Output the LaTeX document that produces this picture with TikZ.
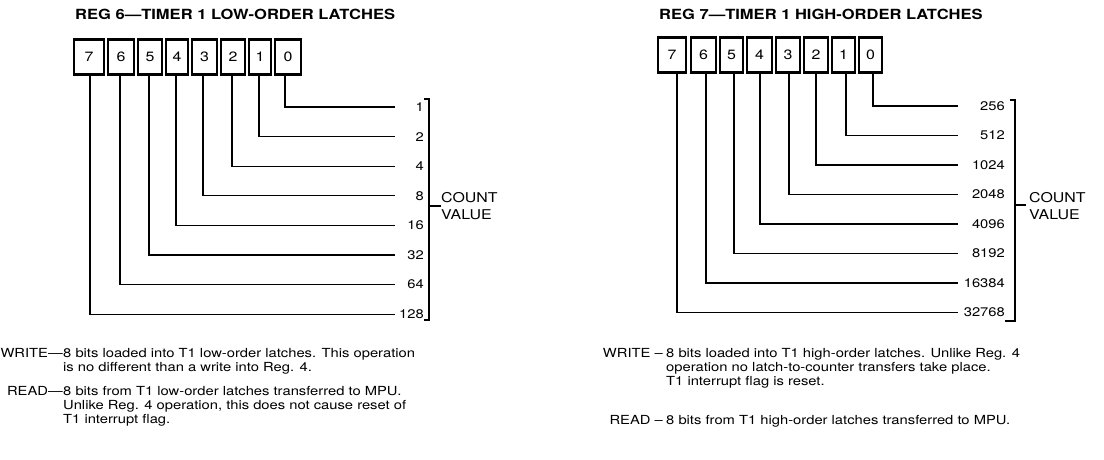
\documentclass[tikz,border=0pt]{standalone}
\usepackage{fontspec}
\setmainfont[FakeStretch=1.18]{TeX Gyre Heros}
\begin{document}
\begin{tikzpicture}[x=1pt,y=-1pt,
  cell/.style={draw, line width=2.2pt, minimum height=35pt, inner sep=0pt, font=\fontsize{13.5}{13.5}\selectfont},
  wire/.style={line width=1.3pt},
  brk/.style={line width=1.7pt},
  val/.style={anchor=east, inner sep=0pt, font=\fontsize{12.5}{12.5}\selectfont},
  title/.style={anchor=west, inner sep=0pt, font=\fontsize{14}{14}\selectfont\bfseries},
  body/.style={anchor=base west, inner sep=0pt, font=\fontsize{12.5}{14}\selectfont},
  lbl/.style={anchor=base east, inner sep=0pt, font=\fontsize{12.5}{14}\selectfont},
  cv/.style={anchor=west, inner sep=0pt, align=left, font=\fontsize{13.5}{17}\selectfont}]
\useasboundingbox (0,0) rectangle (1104,459);

% ---------- left panel ----------
\node[title] (LT) at (75,14) {REG 6\textemdash TIMER 1 LOW-ORDER LATCHES};
\foreach \b/\l/\r in {7/73/105,6/107/135,5/137/163,4/165/189,3/191/218,2/220/246,1/248/272,0/274/302}
  \node[cell, minimum width={(\r-\l-2.2)*1pt}] (L\b) at ({(\l+\r)/2},57) {\b};
\foreach \b/\v/\x in {0/1/285,1/2/259,2/4/232,3/8/203,4/16/176,5/32/149,6/64/120,7/128/90}{
  \coordinate (LX\b) at (\x,0);
  \coordinate (LE\b) at (395,{107+29.6*\b});
  \draw[wire] (L\b.south -| LX\b) |- (LE\b);
  \node[val] (LV\b) at (424,{107+29.6*\b}) {\v};
}
\coordinate (LB1) at (424,99);
\coordinate (LB2) at (429,99);
\coordinate (LB3) at (429,320);
\coordinate (LB4) at (424,320);
\coordinate (LBm) at (429,206);
\draw[brk] (LB1) -- (LB2) -- (LB3) -- (LB4);
\node[cv] (LCV) at (441,206) {COUNT\\VALUE};
\draw[brk] (LBm) -- (LCV.west |- LBm);

\node[lbl]  (LWl) at (63,357) {WRITE\textemdash};
\node[body] (LW1) at (63,357) {8 bits loaded into T1 low-order latches. This operation};
\node[body] (LW2) at (63,371) {is no different than a write into Reg. 4.};
\node[lbl]  (LRl) at (63,395) {READ\textemdash};
\node[body] (LR1) at (63,395) {8 bits from T1 low-order latches transferred to MPU.};
\node[body] (LR2) at (63,409) {Unlike Reg. 4 operation, this does not cause reset of};
\node[body] (LR3) at (63,423) {T1 interrupt flag.};

% ---------- right panel ----------
\node[title] (RT) at (659,14) {REG 7\textemdash TIMER 1 HIGH-ORDER LATCHES};
\foreach \b/\l/\r in {7/657/687,6/690/717,5/719/744,4/746/773,3/775/801,2/803/829,1/831/856,0/858/883}
  \node[cell, minimum width={(\r-\l-2.2)*1pt}] (R\b) at ({(\l+\r)/2},55) {\b};
\foreach \b/\v/\x in {0/256/873,1/512/846,2/1024/816,3/2048/789,4/4096/760,5/8192/734,6/16384/706,7/32768/677}{
  \coordinate (RX\b) at (\x,0);
  \coordinate (RE\b) at (958,{106+29.5*\b});
  \draw[wire] (R\b.south -| RX\b) |- (RE\b);
  \node[val] (RV\b) at (1005,{106+29.5*\b}) {\v};
}
\coordinate (RB1) at (1010,100);
\coordinate (RB2) at (1015,100);
\coordinate (RB3) at (1015,321);
\coordinate (RB4) at (1005,321);
\coordinate (RBm) at (1015,205);
\draw[brk] (RB1) -- (RB2) -- (RB3) -- (RB4);
\node[cv] (RCV) at (1029,206) {COUNT\\VALUE};
\draw[brk] (RBm) -- ([xshift=-3pt]RCV.west |- RBm);

\node[lbl]  (RWl) at (663,357) {WRITE \textendash};
\node[body] (RW1) at (666,357) {8 bits loaded into T1 high-order latches. Unlike Reg. 4};
\node[body] (RW2) at (666,371) {operation no latch-to-counter transfers take place.};
\node[body] (RW3) at (666,385) {T1 interrupt flag is reset.};
\node[lbl]  (RRl) at (663,424) {READ \textendash};
\node[body] (RR1) at (666,424) {8 bits from T1 high-order latches transferred to MPU.};
\end{tikzpicture}
\end{document}
